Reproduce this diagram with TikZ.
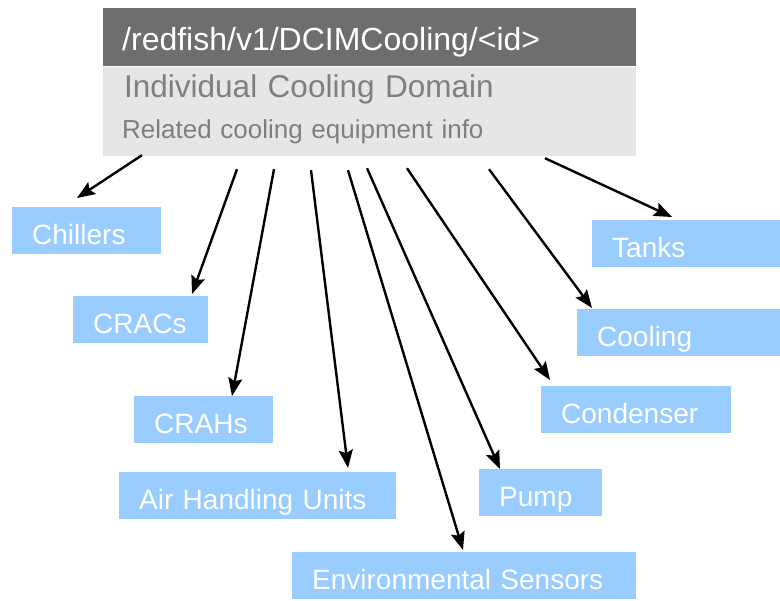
\documentclass[tikz,border=0pt]{standalone}
\usepackage{fontspec}
\setmainfont{Liberation Sans}
\usetikzlibrary{arrows.meta}
\definecolor{hdrdark}{HTML}{6E6E6E}
\definecolor{hdrlight}{HTML}{E6E6E6}
\definecolor{hdrtext}{HTML}{7F7F7F}
\definecolor{itemblue}{HTML}{99CCFF}
\tikzstyle{arrow} = [line width=2.4pt,-{Stealth[length=18pt,width=14pt,inset=3pt]}]
\tikzstyle{item}=[fill=itemblue, text=white, anchor=north west, inner xsep=20pt, inner ysep=0pt,
  minimum height=47pt, text height=27pt, text depth=0pt, align=left,
  font=\fontsize{28}{32}\selectfont]
\tikzstyle{band}=[anchor=north west, inner ysep=0pt, align=left, minimum width=533pt]

\begin{document}
\begin{tikzpicture}[x=1pt, y=-1pt]
    \useasboundingbox (0,0) rectangle (780,601);
    % header
    \node (url) [band, fill=hdrdark, text=white, inner xsep=19pt, text width=495pt,
                 minimum height=58pt, text height=26pt, text depth=0pt,
                 font=\fontsize{32}{36}\selectfont] at (103,8) {/redfish/v1/DCIMCooling/<id>};
    \node (dom) [band, fill=hdrlight, text=hdrtext, inner xsep=21pt, text width=491pt,
                 minimum height=40pt, text height=22pt, text depth=0pt,
                 font=\fontsize{31.5}{35}\selectfont] at (url.south west) {Individual Cooling Domain};
    \node (rel) [band, fill=hdrlight, text=hdrtext, inner xsep=19pt, text width=495pt,
                 minimum height=49pt, text height=15pt, text depth=0pt,
                 font=\fontsize{26}{30}\selectfont] at (dom.south west) {Related cooling equipment info};

    % equipment boxes
    \node (chil) [item, text width=109pt] at (12,207)  {Chillers};
    \node (crac) [item, text width=95pt]  at (73,296)  {CRACs};
    \node (crah) [item, text width=99pt]  at (134,396) {CRAHs};
    \node (ahu)  [item, text width=237pt] at (119,472) {Air Handling Units};
    \node (env)  [item, text width=304pt] at (292,552) {Environmental Sensors};
    \node (pump) [item, text width=83pt]  at (479,469) {Pump};
    \node (cond) [item, text width=150pt] at (541,386) {Condenser};
    \node (cool) [item, text width=163pt] at (577,309) {Cooling};
    \node (tank) [item, text width=148pt] at (592,220) {Tanks};

    % links
    \draw [arrow] ([xshift=39pt,yshift=1pt]rel.south west)   -- ([xshift=65pt,yshift=9pt]chil.north west);
    \draw [arrow] ([xshift=134pt,yshift=-13pt]rel.south west) -- ([xshift=119pt,yshift=2pt]crac.north west);
    \draw [arrow] ([xshift=171pt,yshift=-13pt]rel.south west) -- ([xshift=98pt]crah.north west);
    \draw [arrow] ([xshift=208pt,yshift=-14pt]rel.south west) -- ([xshift=229pt,yshift=4pt]ahu.north west);
    \draw [arrow] ([xshift=245pt,yshift=-14pt]rel.south west) -- ([xshift=171pt,yshift=2pt]env.north west);
    \draw [arrow] ([xshift=264pt,yshift=-12pt]rel.south west) -- ([xshift=21pt]pump.north west);
    \draw [arrow] ([xshift=304pt,yshift=-12pt]rel.south west) -- ([xshift=9pt,yshift=6pt]cond.north west);
    \draw [arrow] ([xshift=386pt,yshift=-13pt]rel.south west) -- ([xshift=15pt,yshift=1pt]cool.north west);
    \draw [arrow] ([xshift=442pt,yshift=-2pt]rel.south west)  -- ([xshift=80pt,yshift=3pt]tank.north west);
\end{tikzpicture}
\end{document}
